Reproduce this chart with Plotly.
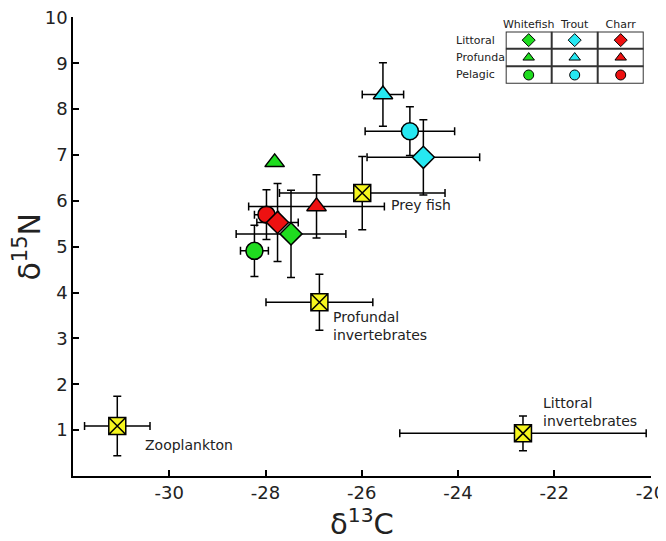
import plotly.graph_objects as go

# fish groups (mean +- sd)
species = ["Whitefish", "Trout", "Charr"]
habitats = ["Littoral", "Profundal", "Pelagic"]
habitat_labels = ["Littoral", "Profunda", "Pelagic"]

fish_species = ["Whitefish", "Whitefish", "Whitefish", "Trout", "Trout", "Trout", "Charr", "Charr", "Charr"]
fish_habitat = ["Pelagic", "Littoral", "Profundal", "Pelagic", "Littoral", "Profundal", "Pelagic", "Littoral", "Profundal"]
fish_c13 = [-28.23, -27.47, -27.81, -25.00, -24.72, -25.56, -27.98, -27.75, -26.94]
fish_c13_sd = [0.29, 1.14, None, 0.93, 1.17, 0.43, 0.25, 0.43, 1.41]
fish_n15 = [4.91, 5.28, 6.84, 7.52, 6.95, 8.32, 5.70, 5.53, 5.88]
fish_n15_sd = [0.56, 0.95, None, 0.53, 0.82, 0.69, 0.54, 0.85, 0.69]

# prey items
prey_names = ["Zooplankton", "Profundal<br>invertebrates", "Littoral<br>invertebrates", "Prey fish"]
prey_c13 = [-31.08, -26.88, -22.65, -25.99]
prey_c13_sd = [0.68, 1.11, 2.56, 1.72]
prey_n15 = [1.09, 3.79, 0.93, 6.17]
prey_n15_sd = [0.65, 0.61, 0.38, 0.80]

x_ticks = [-30, -28, -26, -24, -22, -20]
y_ticks = [1, 2, 3, 4, 5, 6, 7, 8, 9, 10]

colors = {"Whitefish": "#1fdc1f", "Trout": "#26e8f2", "Charr": "#ee1111"}
symbols = {"Littoral": "diamond", "Profundal": "triangle-up", "Pelagic": "circle"}
# label offsets in px (dx, dy)
label_shift = [(26, -19), (12, -24), (18, 21), (27, -12)]

FONT = "DejaVu Sans"
err_style = dict(color="black", thickness=1.5, width=4)

fig = go.Figure()

for i in range(len(prey_names)):
    fig.add_trace(go.Scatter(
        x=[prey_c13[i]], y=[prey_n15[i]], mode="markers",
        marker=dict(symbol="square-x", size=17, color="#f6f61e",
                    line=dict(color="black", width=1.5)),
        error_x=dict(type="data", array=[prey_c13_sd[i]], **err_style),
        error_y=dict(type="data", array=[prey_n15_sd[i]], **err_style),
        showlegend=False))

for i in range(len(fish_c13)):
    ex = dict(type="data", array=[fish_c13_sd[i]], **err_style) if fish_c13_sd[i] else dict(visible=False)
    ey = dict(type="data", array=[fish_n15_sd[i]], **err_style) if fish_n15_sd[i] else dict(visible=False)
    fig.add_trace(go.Scatter(
        x=[fish_c13[i]], y=[fish_n15[i]], mode="markers",
        marker=dict(symbol=symbols[fish_habitat[i]], size=17,
                    color=colors[fish_species[i]],
                    line=dict(color="black", width=1.5)),
        error_x=ex, error_y=ey, showlegend=False))

# key table markers
fig.add_trace(go.Scatter(
    x=[species.index(s) for s in fish_species],
    y=[habitats.index(h) for h in fish_habitat],
    mode="markers", xaxis="x2", yaxis="y2",
    marker=dict(symbol=[symbols[h] for h in fish_habitat], size=10,
                color=[colors[s] for s in fish_species],
                line=dict(color="black", width=1)),
    showlegend=False, hoverinfo="skip"))

annotations = []
for i, name in enumerate(prey_names):
    dx, dy = label_shift[i]
    annotations.append(dict(x=prey_c13[i], y=prey_n15[i], text=name, showarrow=False,
                            xanchor="left", yanchor="middle", align="left",
                            xshift=dx, yshift=dy,
                            font=dict(family=FONT, size=14, color="#222")))
for j, lab in enumerate(habitat_labels):
    annotations.append(dict(x=0.659, xref="paper", y=j, yref="y2", text=lab,
                            showarrow=False, xanchor="left", yanchor="middle",
                            font=dict(family=FONT, size=11, color="#222")))
# axis titles, placed by hand
annotations.append(dict(x=0, xref="paper", y=0.5, yref="paper", text="δ<sup>15</sup>N",
                        textangle=-90, showarrow=False, xanchor="center", yanchor="middle",
                        xshift=-45, font=dict(family=FONT, size=30, color="#222")))
annotations.append(dict(x=0.5, xref="paper", y=0, yref="paper", text="δ<sup>13</sup>C",
                        showarrow=False, xanchor="center", yanchor="middle",
                        yshift=-46, font=dict(family=FONT, size=29, color="#222")))

shapes = [dict(type="rect", xref="x2", yref="y2", x0=-0.5, x1=2.5, y0=-0.5, y1=2.5,
               line=dict(color="#333", width=2))]
for v in [0.5, 1.5]:
    shapes.append(dict(type="line", xref="x2", yref="y2", x0=v, x1=v, y0=-0.5, y1=2.5,
                       line=dict(color="#333", width=2)))
    shapes.append(dict(type="line", xref="x2", yref="y2", x0=-0.5, x1=2.5, y0=v, y1=v,
                       line=dict(color="#333", width=2)))

# the page body adds an 8px offset, so the figure is sized to fit the window
fig.update_layout(
    width=658, height=533,
    margin=dict(l=65, r=15, t=9, b=65),
    paper_bgcolor="white", plot_bgcolor="white",
    font=dict(family=FONT, color="#222"),
    xaxis=dict(range=[-32, -19.99], tickvals=x_ticks, automargin=False,
               ticktext=[str(v) for v in x_ticks], ticklabeloverflow="allow",
               ticks="inside", ticklen=6,
               tickcolor="black", tickwidth=1.5, showline=True, linecolor="black",
               linewidth=1.5, showgrid=False, zeroline=False,
               tickfont=dict(size=18)),
    yaxis=dict(range=[0, 10.01], tickvals=y_ticks, automargin=False,
               ticklabeloverflow="allow",
               ticks="inside", ticklen=6,
               tickcolor="black", tickwidth=1.5, showline=True, linecolor="black",
               linewidth=1.5, showgrid=False, zeroline=False,
               tickfont=dict(size=18)),
    xaxis2=dict(domain=[0.7486, 0.9874], anchor="y2", range=[-0.5, 2.5],
                automargin=False,
                side="top", tickvals=[0, 1, 2], ticktext=species, ticks="",
                showgrid=False, zeroline=False, showline=False,
                tickfont=dict(size=11)),
    yaxis2=dict(domain=[0.8547, 0.9686], anchor="x2", range=[2.5, -0.5],
                automargin=False,
                showticklabels=False, ticks="", showgrid=False, zeroline=False,
                showline=False),
    annotations=annotations,
    shapes=shapes,
)

fig.write_html("out.html")
